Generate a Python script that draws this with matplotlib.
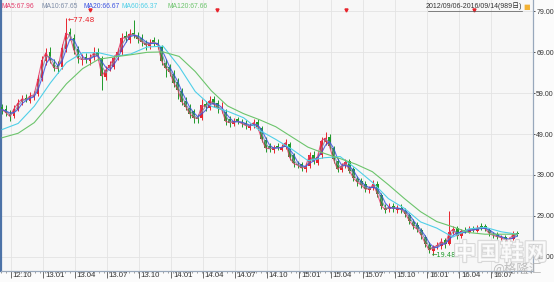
import matplotlib
matplotlib.use('Agg')
import matplotlib.pyplot as plt
import matplotlib.dates as mdates
import matplotlib.patheffects as pe
import matplotlib.transforms as mtrans
import numpy as np
import pandas as pd

plt.rcParams['font.family'] = ['Liberation Sans', 'Noto Sans CJK SC']

# price data (one bar ~ every 7-8 trading days)
first_day, last_day = '2012-09-06', '2016-09-14'

opens = [55.6, 55.2, 54.0, 53.5, 55.0, 56.8, 57.9, 57.2, 58.0, 58.8,
         62.8, 66.8, 69.2, 66.5, 65.8, 65.5, 69.8, 74.0, 72.6, 69.8,
         67.0, 67.8, 66.9, 67.8, 69.2, 67.5, 63.0, 65.2, 65.5, 67.8,
         69.0, 73.0, 72.0, 73.8, 73.0, 72.6, 71.2, 70.5, 71.9, 71.3,
         70.2, 66.5, 65.5, 63.8, 61.8, 59.5, 57.2, 55.5, 54.6, 53.2,
         53.0, 56.4, 55.5, 57.5, 56.5, 54.8, 54.5, 52.6, 51.5, 52.6,
         52.0, 51.8, 50.6, 51.0, 52.0, 50.4, 47.5, 46.0, 45.0, 46.1,
         45.2, 45.9, 46.5, 43.8, 41.5, 41.6, 40.5, 41.3, 44.0, 42.0,
         43.8, 47.0, 48.4, 45.6, 42.5, 40.2, 41.5, 42.4, 40.4, 38.0,
         37.5, 36.8, 35.2, 35.9, 36.9, 34.0, 31.0, 30.6, 31.5, 30.5,
         31.0, 30.2, 29.3, 27.5, 26.8, 25.5, 23.9, 21.9, 20.3, 21.5,
         21.6, 23.0, 22.2, 25.3, 25.9, 24.1, 25.6, 25.1, 25.9, 25.3,
         26.5, 26.4, 25.5, 24.4, 24.5, 23.6, 23.9, 22.7, 23.4, 24.8]
highs = [56.4, 56.0, 54.8, 56.0, 57.5, 58.6, 58.8, 59.2, 59.6, 63.4,
         68.0, 70.0, 70.2, 67.4, 66.8, 71.0, 77.48, 75.0, 73.4, 70.6,
         68.6, 68.8, 68.5, 70.2, 70.0, 68.0, 65.6, 66.8, 68.4, 70.0,
         73.8, 74.2, 74.6, 77.0, 74.0, 73.6, 72.0, 72.2, 72.8, 72.2,
         70.8, 67.4, 66.2, 64.6, 62.6, 60.2, 58.0, 56.4, 55.2, 54.0,
         57.6, 57.2, 58.2, 58.2, 57.4, 56.8, 55.2, 53.4, 53.0, 53.2,
         52.6, 52.4, 51.8, 52.8, 52.8, 51.0, 48.2, 46.8, 46.4, 46.8,
         46.6, 47.8, 47.0, 44.4, 42.4, 42.2, 41.8, 44.6, 44.8, 44.4,
         48.4, 49.6, 49.0, 46.2, 43.2, 42.0, 43.0, 43.0, 41.0, 38.8,
         38.2, 37.4, 36.4, 37.8, 37.4, 34.6, 31.8, 32.2, 32.2, 31.6,
         31.8, 30.8, 29.8, 28.2, 27.4, 26.0, 24.4, 22.6, 21.8, 22.6,
         23.6, 23.6, 30.1, 26.6, 26.4, 25.8, 26.2, 26.4, 26.4, 26.8,
         27.2, 26.9, 26.0, 25.0, 25.0, 24.3, 24.4, 23.8, 25.2, 25.4]
lows = [54.0, 53.4, 52.2, 53.0, 54.6, 56.0, 56.8, 56.6, 57.4, 58.2,
        62.0, 66.0, 66.4, 64.4, 64.0, 65.0, 69.0, 72.0, 68.6, 66.4,
        66.0, 66.4, 66.0, 67.2, 67.2, 59.9, 62.2, 64.4, 64.8, 67.0,
        68.4, 71.6, 71.2, 72.4, 71.2, 70.6, 69.6, 69.8, 70.6, 69.8,
        66.0, 63.0, 63.2, 60.4, 57.6, 56.0, 54.8, 53.0, 51.6, 51.8,
        52.4, 54.6, 55.0, 55.6, 54.2, 54.2, 51.2, 50.8, 51.0, 51.4,
        50.8, 50.2, 50.0, 50.4, 50.0, 47.0, 44.6, 44.6, 44.4, 45.0,
        44.8, 45.4, 42.6, 41.0, 40.6, 40.0, 39.6, 40.8, 41.6, 41.4,
        43.2, 46.4, 45.4, 42.0, 39.8, 39.6, 40.8, 39.4, 37.6, 36.4,
        35.8, 34.8, 34.6, 35.2, 33.6, 30.6, 29.6, 30.0, 30.0, 29.8,
        29.8, 28.8, 27.0, 25.8, 25.0, 23.4, 21.4, 20.0, 19.48, 20.8,
        21.0, 21.2, 21.8, 24.6, 23.4, 23.6, 24.8, 24.8, 25.0, 25.0,
        25.6, 25.2, 24.0, 23.6, 23.4, 23.0, 22.4, 22.2, 23.0, 24.0]
closes = [55.0, 54.2, 53.3, 55.2, 56.6, 57.6, 57.4, 58.3, 58.6, 62.5,
          67.0, 68.9, 67.0, 65.2, 65.0, 70.0, 73.7, 73.0, 69.5, 67.5,
          67.3, 67.3, 67.6, 68.9, 68.0, 63.2, 64.7, 65.8, 67.6, 69.1,
          72.5, 72.5, 73.5, 73.3, 72.3, 71.6, 70.8, 71.2, 71.5, 70.8,
          66.8, 65.1, 64.2, 61.5, 59.9, 56.9, 55.7, 54.0, 53.0, 52.8,
          56.0, 55.7, 57.2, 56.3, 55.3, 55.0, 52.1, 51.8, 52.1, 52.1,
          51.6, 51.1, 50.9, 51.8, 50.8, 47.8, 45.6, 45.4, 45.7, 45.7,
          45.7, 46.9, 43.3, 41.8, 41.4, 40.7, 41.1, 43.8, 42.3, 43.5,
          47.4, 48.0, 46.0, 42.8, 40.4, 41.2, 42.1, 40.0, 38.2, 37.2,
          36.5, 35.5, 35.7, 36.7, 34.3, 31.4, 30.5, 31.2, 30.8, 30.8,
          30.5, 29.5, 27.8, 26.4, 25.7, 24.2, 22.2, 20.6, 21.3, 21.8,
          22.7, 22.0, 25.0, 25.7, 24.0, 25.2, 25.4, 25.7, 25.5, 26.0,
          26.2, 25.8, 24.7, 24.2, 23.9, 23.7, 23.0, 23.2, 24.5, 24.5]

# long moving averages (they start before the visible window)
ma60 = [50.1, 51.6, 55.8, 61.5, 66.5, 68.9, 68.9, 68.0, 68.6, 70.3, 70.5,
        65.5, 59.4, 55.8, 54.6, 53.0, 49.9, 47.7, 45.3, 42.5, 43.2, 43.5,
        40.5, 37.2, 33.2, 30.8, 27.5, 26.0, 23.8, 25.8, 26.2, 25.1, 24.5]
ma120 = [48.1, 49.2, 51.8, 56.5, 61.3, 65.0, 67.3, 67.9, 68.4, 69.0, 69.1,
         68.0, 64.3, 59.6, 55.9, 54.0, 52.5, 50.8, 48.3, 45.8, 44.3, 43.0,
         41.6, 39.8, 36.6, 33.2, 30.0, 27.6, 26.3, 24.9, 24.5, 24.5, 24.5]

ma_names = ['MA5', 'MA10', 'MA20', 'MA60', 'MA120']
ma_header = [67.96, 67.65, 66.67, 66.37, 67.66]
ma_colors = ['#e33d6b', '#7d8ca6', '#3b52e0', '#4fcfe8', '#6cc46c']

event_days = ['2013-05-14', '2014-05-13', '2015-05-15', '2016-05-13']

y_ticks = [19, 29, 39, 49, 59, 69, 79]
x_tick_days = ['2012-10-01', '2013-01-01', '2013-04-01', '2013-07-01', '2013-10-01',
               '2014-01-01', '2014-04-01', '2014-07-01', '2014-10-01', '2015-01-01',
               '2015-04-01', '2015-07-01', '2015-10-01', '2016-01-01', '2016-04-01',
               '2016-07-01']
x_tick_labels = ['12.10', '13.01', '13.04', '13.07', '13.10', '14.01', '14.04', '14.07',
                 '14.10', '15.01', '15.04', '15.07', '15.10', '16.01', '16.04', '16.07']

o = np.array(opens)
h = np.array(highs)
l = np.array(lows)
c = np.array(closes)
days = mdates.date2num(pd.date_range(first_day, last_day, periods=len(c)))
ma_days = mdates.date2num(pd.date_range(first_day, last_day, periods=len(ma60)))
step = days[1] - days[0]

fig = plt.figure(figsize=(5.54, 2.82), dpi=100, facecolor='#fbfbfb')
ax = fig.add_axes([1 / 554, 11 / 282, 532 / 554, 271 / 282])
ax.set_facecolor('#f7f7f7')

up = c >= o
col = np.where(up, '#e8242c', '#1f9a2a')
ax.vlines(days, l, h, colors=col, lw=0.7, zorder=2)
body = np.maximum(np.abs(c - o), 0.2)
ax.bar(days, body, bottom=np.minimum(o, c), width=step * 0.7, color=col, lw=0, zorder=3)

cs = pd.Series(c)
short_mas = [cs, cs.rolling(2, min_periods=1).mean(), cs.rolling(3, min_periods=1).mean()]
for vals, colr in zip(short_mas, ma_colors[:3]):
    ax.plot(days, vals, color=colr, lw=0.8, zorder=4, alpha=0.85)
ax.plot(ma_days, ma60, color=ma_colors[3], lw=0.8, zorder=4)
ax.plot(ma_days, ma120, color=ma_colors[4], lw=0.8, zorder=4)

# high / low marks
i_hi = int(np.argmax(h))
i_lo = int(np.argmin(l))
ax.annotate('\u2190%.2f' % h[i_hi], (days[i_hi], h[i_hi]), xytext=(1, -1.5),
            textcoords='offset points', fontsize=5.3, color='#e8242c', va='center',
            family=['DejaVu Sans'])
ax.annotate('\u2190%.2f' % l[i_lo], (days[i_lo], l[i_lo]), xytext=(-1, 0),
            textcoords='offset points', fontsize=4.8, color='#1f9a2a', va='center',
            family=['DejaVu Sans'], zorder=6)

ev = mdates.date2num(pd.to_datetime(event_days))
ax.plot(ev, [79.4] * len(ev), ls='none', marker='v', ms=2.2, color='#e8242c', zorder=5)

ax.set_xlim(days[0] - 3, days[-1] + 45)
ax.set_ylim(15.5, 81.8)

ax.yaxis.tick_right()
ax.set_yticks(y_ticks)
ax.set_yticklabels(['%.2f' % v for v in y_ticks])
ax.set_xticks(mdates.date2num(pd.to_datetime(x_tick_days)))
ax.set_xticklabels(x_tick_labels, ha='left')
ax.xaxis.set_minor_locator(mdates.WeekdayLocator(byweekday=0, interval=2))
ax.tick_params(axis='y', direction='out', length=1.5, pad=0.8, labelsize=5.0,
               colors='#333333', width=0.6)
ax.tick_params(axis='x', direction='out', length=5, pad=-4.6, labelsize=5.6,
               colors='#333333', width=0.5)
ax.tick_params(axis='x', which='minor', direction='out', length=1.5, width=0.5,
               colors='#777777')
ax.grid(color='#e3e3e3', lw=0.6, zorder=0)
ax.set_axisbelow(True)

# nudge x labels a little to the right of their tick
shift = mtrans.ScaledTranslation(2 / 100, 0, fig.dpi_scale_trans)
for lab in ax.get_xticklabels():
    lab.set_transform(lab.get_transform() + shift)

ax.spines['top'].set_visible(False)
ax.spines['left'].set_color('#4d73a8')
ax.spines['left'].set_linewidth(1.6)
ax.spines['right'].set_color('#98a8bc')
ax.spines['bottom'].set_color('#98a8bc')
ax.spines['right'].set_linewidth(0.9)
ax.spines['bottom'].set_linewidth(0.9)

# header line
head_x = [2, 42, 83, 122, 168]
for px, name, val, colr in zip(head_x, ma_names, ma_header, ma_colors):
    fig.text(px / 554, 1 - 7 / 282, '%s:%.2f' % (name, val), color=colr,
             fontsize=4.9, va='center')
fig.text(522 / 554, 1 - 6 / 282, '2012/09/06-2016/09/14(989日)', color='#333333',
         fontsize=5.0, va='center', ha='right')
fig.add_artist(plt.Line2D([428 / 554, 522 / 554], [1 - 11 / 282, 1 - 11 / 282],
                          color='#555555', lw=0.5))
fig.text(527 / 554, 1 - 7 / 282, '\u25a0', color='#f2b134', fontsize=5,
         va='center', ha='center', family=['DejaVu Sans'])

# watermark
wm = fig.text(453 / 554, 1 - 253 / 282, '中国鞋网', family=['Noto Sans CJK SC'],
              fontsize=17, fontweight='bold', color='white', alpha=0.8,
              va='center', ha='left')
wm.set_path_effects([pe.withStroke(linewidth=1.5, foreground='#cfcfcf')])
fig.text(492 / 554, 1 - 268 / 282, '@格隆汇', family=['Noto Sans CJK SC'],
         fontsize=9, color='#b0b0b0', alpha=0.8, va='center', ha='left')

fig.savefig('out.png', dpi=100, facecolor=fig.get_facecolor())
